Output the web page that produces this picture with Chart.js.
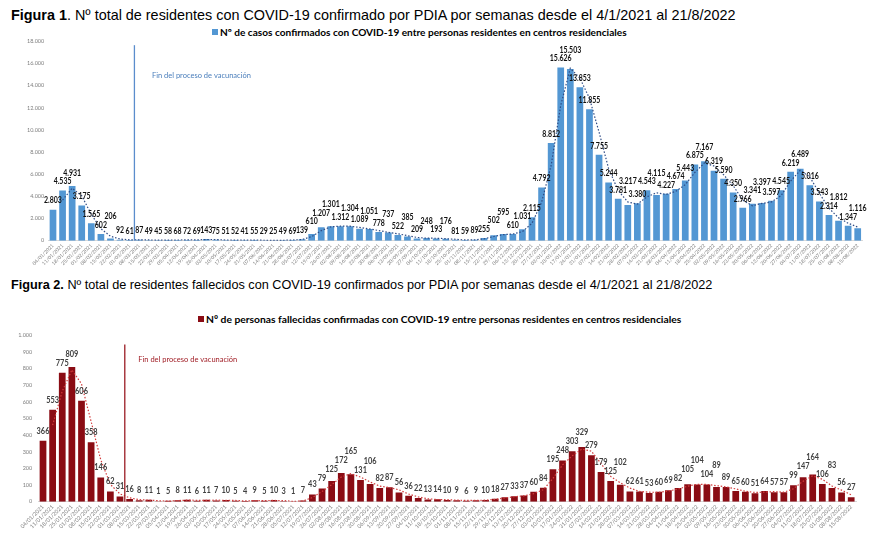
<!DOCTYPE html>
<html lang="es">
<head>
<meta charset="utf-8">
<title>Residentes COVID-19</title>
<script src="https://cdn.jsdelivr.net/npm/chart.js@4.4.1/dist/chart.umd.min.js"></script>
<style>
  body { margin: 0; width: 879px; height: 540px; background: #fff; position: relative; overflow: hidden; }
  .fig-title { position: absolute; left: 11px; font-family: 'Liberation Sans', Arial, sans-serif; line-height: 16px; color: #000; white-space: nowrap; }
  .legend { position: absolute; font-family: Lato, sans-serif; font-weight: bold; line-height: 13px; color: #000; white-space: nowrap; }
  .legend .box { display: inline-block; width: 6px; height: 6px; margin-right: 2px; vertical-align: 1px; }
  canvas { position: absolute; left: 0; }
</style>
</head>
<body>

<div class="fig-title" style="top:7px; font-size:14.4px"><b>Figura 1</b>. Nº total de residentes con COVID-19 confirmado por PDIA por semanas desde el 4/1/2021 al 21/8/2022</div>
<div class="legend" style="top:26px; left:212px; font-size:10.1px"><span class="box" style="background:#5397d3"></span>Nº de casos confirmados con COVID-19 entre personas residentes en centros residenciales</div>
<canvas id="casos" width="879" height="250" style="top:22px"></canvas>

<div class="fig-title" style="top:277px; font-size:12.7px"><b>Figura 2.</b> Nº total de residentes fallecidos con COVID-19 confirmados por PDIA por semanas desde el 4/1/2021 al 21/8/2022</div>
<div class="legend" style="top:313px; left:198px; font-size:10.3px"><span class="box" style="background:#8a0c14"></span>Nº de personas fallecidas confirmadas con COVID-19 entre personas residentes en centros residenciales</div>
<canvas id="fallecidos" width="879" height="214" style="top:326px"></canvas>

<script>
// semanas (lunes) 04/01/2021 - 15/08/2022
const semanas = [
    '04/01/2021','11/01/2021','18/01/2021','25/01/2021','01/02/2021','08/02/2021','15/02/2021','22/02/2021',
    '01/03/2021','08/03/2021','15/03/2021','22/03/2021','29/03/2021','05/04/2021','12/04/2021','19/04/2021',
    '26/04/2021','03/05/2021','10/05/2021','17/05/2021','24/05/2021','31/05/2021','07/06/2021','14/06/2021',
    '21/06/2021','28/06/2021','05/07/2021','12/07/2021','19/07/2021','26/07/2021','02/08/2021','09/08/2021',
    '16/08/2021','23/08/2021','30/08/2021','06/09/2021','13/09/2021','20/09/2021','27/09/2021','04/10/2021',
    '11/10/2021','18/10/2021','25/10/2021','01/11/2021','08/11/2021','15/11/2021','22/11/2021','29/11/2021',
    '06/12/2021','13/12/2021','20/12/2021','27/12/2021','03/01/2022','10/01/2022','17/01/2022','24/01/2022',
    '31/01/2022','07/02/2022','14/02/2022','21/02/2022','28/02/2022','07/03/2022','14/03/2022','21/03/2022',
    '28/03/2022','04/04/2022','11/04/2022','18/04/2022','25/04/2022','02/05/2022','09/05/2022','16/05/2022',
    '23/05/2022','30/05/2022','06/06/2022','13/06/2022','20/06/2022','27/06/2022','04/07/2022','11/07/2022',
    '18/07/2022','25/07/2022','01/08/2022','08/08/2022','15/08/2022'
];

const casos = [
    2803, 4535, 4931, 3175, 1565, 602, 206, 92, 61, 87, 49, 45, 58, 68, 72, 69, 143, 75, 51, 52, 41,
    55, 29, 25, 49, 69, 139, 610, 1207, 1301, 1312, 1304, 1089, 1051, 778, 737, 522, 385, 209, 248,
    193, 176, 81, 59, 89, 255, 502, 595, 610, 1031, 2115, 4792, 8812, 15626, 15503, 13853, 11855,
    7755, 5244, 3781, 3217, 3380, 4543, 4115, 4227, 4674, 5443, 6875, 7167, 6319, 5590, 4350, 2966,
    3341, 3397, 3597, 4545, 6219, 6489, 5016, 3543, 2314, 1812, 1347, 1116
];

// media móvil de 2 periodos (línea punteada)
const casosTendencia = [
    null, 3669, 4733, 4053, 2370, 1084, 404, 149, 77, 74, 68, 47, 52, 63, 70, 71, 106, 109, 63, 52, 47,
    48, 42, 27, 37, 59, 104, 375, 909, 1254, 1307, 1308, 1197, 1070, 915, 758, 630, 454, 297, 229,
    221, 185, 129, 70, 74, 172, 379, 549, 603, 821, 1573, 3454, 6802, 12219, 15565, 14678, 12854,
    9805, 6500, 4513, 3499, 3299, 3962, 4329, 4171, 4451, 5059, 6159, 7021, 6743, 5955, 4970, 3658,
    3154, 3369, 3497, 4071, 5382, 6354, 5753, 4280, 2929, 2063, 1580, 1232
];

const fallecidos = [
    366, 553, 775, 809, 606, 358, 146, 62, 31, 16, 8, 11, 1, 5, 8, 11, 6, 11, 7, 10, 5,
    4, 9, 5, 10, 3, 1, 7, 43, 79, 125, 172, 165, 131, 106, 82, 87, 56, 36, 22,
    13, 14, 10, 9, 6, 9, 10, 18, 27, 33, 37, 60, 84, 195, 248, 303, 329, 279, 179,
    125, 102, 62, 61, 53, 60, 69, 82, 105, 104, 104, 89, 89, 65, 60, 51, 64, 57,
    57, 99, 147, 164, 106, 83, 56, 27
];

const fallecidosTendencia = [
    null, 460, 664, 792, 708, 482, 252, 104, 46.5, 23.5, 12, 9.5, 6, 3, 6.5, 9.5, 8.5, 8.5, 9, 8.5, 7.5,
    4.5, 6.5, 7, 7.5, 6.5, 2, 4, 25, 61, 102, 148.5, 168.5, 148, 118.5, 94, 84.5, 71.5, 46, 29,
    17.5, 13.5, 12, 9.5, 7.5, 7.5, 9.5, 14, 22.5, 30, 35, 48.5, 72, 139.5, 221.5, 275.5, 316, 304, 229,
    152, 113.5, 82, 61.5, 57, 56.5, 64.5, 75.5, 93.5, 104.5, 104, 96.5, 89, 77, 62.5, 55.5, 57.5, 60.5,
    57, 78, 123, 155.5, 135, 94.5, 69.5, 41.5
];

// semana tras la que termina la vacunación (la línea va entre esta y la siguiente)
const finVacunacionIdx = 8;
const finVacunacionTexto = 'Fin del proceso de vacunación';

function fmt(v) {
    return String(v).replace(/\B(?=(\d{3})+(?!\d))/g, '.');
}

// etiquetas de datos encima de las barras, subiéndolas si se pisan
// (texto algo estrechado para parecerse a la Calibri del original)
const etiquetasPlugin = {
    id: 'etiquetas',
    afterDatasetsDraw(chart, args, opts) {
        const ctx = chart.ctx;
        const meta = chart.getDatasetMeta(1);
        const data = chart.data.datasets[1].data;
        const h = opts.size;
        ctx.save();
        ctx.font = `bold ${opts.size}px Lato, sans-serif`;
        ctx.fillStyle = opts.color;
        ctx.textAlign = 'center';
        ctx.textBaseline = 'middle';
        const placed = [];
        meta.data.forEach((el, i) => {
            const txt = fmt(data[i]);
            const w = ctx.measureText(txt).width * opts.stretch;
            let cy = el.y - opts.offset;
            let moved = true;
            while (moved) {
                moved = false;
                for (const p of placed) {
                    const hOver = Math.min(p.r, el.x + w / 2) - Math.max(p.l, el.x - w / 2);
                    const vOver = Math.min(p.b, cy + h / 2) - Math.max(p.t, cy - h / 2);
                    if (hOver > opts.tolerance && vOver > 0.5) {
                        cy = p.t - h / 2;
                        moved = true;
                    }
                }
            }
            placed.push({ l: el.x - w / 2, r: el.x + w / 2, t: cy - h / 2, b: cy + h / 2 });
            ctx.save();
            ctx.translate(el.x, cy);
            ctx.scale(opts.stretch, 1);
            ctx.fillText(txt, 0, 0);
            ctx.restore();
        });
        ctx.restore();
    }
};

const vacunaPlugin = {
    id: 'vacuna',
    afterDatasetsDraw(chart, args, opts) {
        const ctx = chart.ctx;
        const xs = chart.scales.x, ys = chart.scales.y;
        const x = (xs.getPixelForValue(finVacunacionIdx) + xs.getPixelForValue(finVacunacionIdx + 1)) / 2;
        ctx.save();
        ctx.strokeStyle = opts.color;
        ctx.lineWidth = 1.3;
        ctx.beginPath();
        ctx.moveTo(x, ys.getPixelForValue(opts.top));
        ctx.lineTo(x, ys.getPixelForValue(0));
        ctx.stroke();
        ctx.fillStyle = opts.textColor;
        ctx.font = '7.5px Lato, sans-serif';
        ctx.textBaseline = 'middle';
        ctx.fillText(finVacunacionTexto, x + opts.textDx, ys.getPixelForValue(opts.textY));
        ctx.restore();
    }
};

function makeChart(id, cfg) {
    return new Chart(document.getElementById(id), {
        data: {
            labels: semanas,
            datasets: [
                {
                    type: 'line',
                    data: cfg.trend,
                    borderColor: cfg.trendColor,
                    borderWidth: 1.2,
                    borderDash: [1.5, 1.8],
                    pointRadius: 0,
                    fill: false,
                    tension: 0,
                    order: 0
                },
                {
                    type: 'bar',
                    data: cfg.values,
                    backgroundColor: cfg.color,
                    barPercentage: 0.7,
                    categoryPercentage: 1,
                    order: 1
                }
            ]
        },
        options: {
            responsive: false,
            animation: false,
            layout: { padding: { top: cfg.padTop, right: cfg.padRight, left: 0, bottom: 0 } },
            plugins: {
                legend: { display: false },
                tooltip: { enabled: false },
                vacuna: cfg.vacuna,
                etiquetas: cfg.etiquetas
            },
            scales: {
                x: {
                    grid: { display: false, drawTicks: false },
                    border: { color: '#d9d9d9' },
                    ticks: {
                        autoSkip: false,
                        maxRotation: 45,
                        minRotation: 45,
                        padding: 2,
                        color: '#7f7f7f',
                        font: { family: 'Lato', size: cfg.xFont }
                    },
                    afterFit: s => { s.height = cfg.xHeight; }
                },
                y: {
                    min: 0,
                    max: cfg.yMax,
                    grid: { display: false, drawTicks: false },
                    border: { display: false },
                    ticks: {
                        stepSize: cfg.yStep,
                        padding: cfg.yPad,
                        color: '#7f7f7f',
                        font: { family: 'Lato', size: 5.5 },
                        callback: v => fmt(v)
                    },
                    afterFit: s => { s.width = cfg.yWidth; }
                }
            }
        },
        plugins: [etiquetasPlugin, vacunaPlugin]
    });
}

makeChart('casos', {
    values: casos,
    trend: casosTendencia,
    color: '#5397d3',
    trendColor: '#2f4c86',
    yMax: 18000, yStep: 2000,
    padTop: 19.3, padRight: 16.5,
    yWidth: 48.2, yPad: 4,
    xHeight: 31.3, xFont: 5,
    etiquetas: { size: 8.5, stretch: 0.82, offset: 9, tolerance: 0.6, color: '#111' },
    vacuna: { color: '#5b8dcc', textColor: '#4a7ebb', top: 17650, textY: 14900, textDx: 17.5 }
});

makeChart('fallecidos', {
    values: fallecidos,
    trend: fallecidosTendencia,
    color: '#8a0c14',
    trendColor: '#d23c3c',
    yMax: 1000, yStep: 100,
    padTop: 6.4, padRight: 23,
    yWidth: 38.2, yPad: 6,
    xHeight: 38.3, xFont: 5.5,
    etiquetas: { size: 9, stretch: 0.82, offset: 10, tolerance: 0.6, color: '#404040' },
    vacuna: { color: '#9b1c24', textColor: '#a01c24', top: 945, textY: 853, textDx: 13.5 }
});
</script>
</body>
</html>
